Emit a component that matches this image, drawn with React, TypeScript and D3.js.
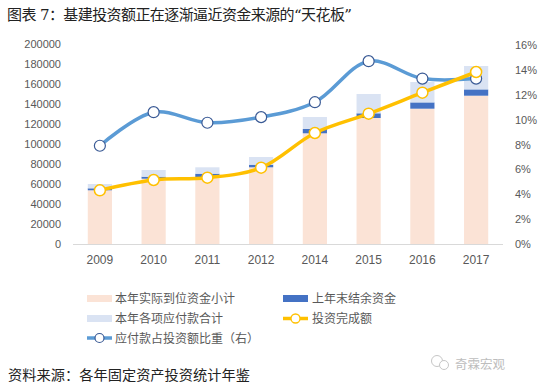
import React from "react";
import * as d3 from "d3";

const years = ["2009", "2010", "2011", "2012", "2014", "2015", "2016", "2017"];
const actualFunds = [53700, 65300, 67000, 76700, 110700, 126000, 135300, 148300];
const carryOver = [2000, 2000, 3300, 2600, 4300, 4700, 6300, 6300];
const payables = [4300, 6700, 6400, 7700, 12000, 19300, 20400, 23400];
const investment = [53700, 64000, 66300, 76300, 111000, 130300, 151300, 172000];
const payableRatio = [7.9, 10.6, 9.75, 10.2, 11.4, 14.7, 13.3, 13.3];
const leftTicks = [0, 20000, 40000, 60000, 80000, 100000, 120000, 140000, 160000, 180000, 200000];
const rightTicks = [0, 2, 4, 6, 8, 10, 12, 14, 16];

const FONT = "'Liberation Sans', 'Noto Sans CJK SC', sans-serif";
const CJK = "'Noto Sans CJK SC', sans-serif";
const SERIF = "'DejaVu Serif', 'Noto Sans CJK SC', serif";
const GRAY = "#595959";

export default function App() {
  const W = 550, H = 388;
  const x = d3.scaleBand<string>().domain(years).range([73, 503]).paddingInner(0.55).paddingOuter(0.275);
  const y = d3.scaleLinear().domain([0, 200000]).range([244, 44]);
  const yr = d3.scaleLinear().domain([0, 16]).range([244, 45]);
  const cx = (i: number) => (x(years[i]) as number) + x.bandwidth() / 2;
  const lineBlue = d3.line<number>().x((_, i) => cx(i)).y((d) => yr(d)).curve(d3.curveCatmullRom.alpha(0.5));
  const lineYellow = d3.line<number>().x((_, i) => cx(i)).y((d) => y(d)).curve(d3.curveCatmullRom.alpha(0.5));
  const bw = x.bandwidth();

  return (
    <svg width={W} height={H} style={{ position: "absolute", left: 0, top: 0, background: "#fff" }}>
      <rect width={W} height={H} fill="#fff" />
      <text x={7} y={20} fontFamily={SERIF} fontSize={15} fill="#222" textLength={345} lengthAdjust="spacing">图表 7：基建投资额正在逐渐逼近资金来源的“天花板”</text>

      {leftTicks.map((t) => (
        <text key={"l" + t} x={61} y={y(t) + 4} textAnchor="end" fontFamily={FONT} fontSize={11} fill={GRAY}>{t}</text>
      ))}
      {rightTicks.map((t) => (
        <text key={"r" + t} x={515} y={yr(t) + 4} fontFamily={FONT} fontSize={11} fill={GRAY}>{t + "%"}</text>
      ))}

      {years.map((yy, i) => {
        const x0 = x(yy) as number;
        const a = actualFunds[i], c = carryOver[i], p = payables[i];
        return (
          <g key={yy}>
            <rect x={x0} y={y(a)} width={bw} height={y(0) - y(a)} fill="#FBE3D6" />
            <rect x={x0} y={y(a + c)} width={bw} height={y(a) - y(a + c)} fill="#4472C4" />
            <rect x={x0} y={y(a + c + p)} width={bw} height={y(a + c) - y(a + c + p)} fill="#DAE3F3" />
            <text x={cx(i)} y={264} textAnchor="middle" fontFamily={FONT} fontSize={12} fill={GRAY}>{yy}</text>
          </g>
        );
      })}
      <line x1={73} x2={503} y1={244.5} y2={244.5} stroke="#D9D9D9" strokeWidth={1} />

      <path d={lineBlue(payableRatio) || ""} fill="none" stroke="#5B9BD5" strokeWidth={3.5} strokeLinecap="round" />
      <path d={lineYellow(investment) || ""} fill="none" stroke="#FFC000" strokeWidth={3.5} strokeLinecap="round" />
      {payableRatio.map((v, i) => (
        <circle key={"b" + i} cx={cx(i)} cy={yr(v)} r={5.5} fill="#fff" stroke="#3A5A95" strokeWidth={1.2} />
      ))}
      {investment.map((v, i) => (
        <circle key={"y" + i} cx={cx(i)} cy={y(v)} r={5.5} fill="#fff" stroke="#FFC000" strokeWidth={1.5} />
      ))}

      {/* legend */}
      <g fontFamily={CJK} fontSize={12} fill={GRAY}>
        <rect x={87} y={295} width={25} height={7} fill="#FBE3D6" />
        <text x={115} y={303}>本年实际到位资金小计</text>
        <rect x={283} y={295} width={25} height={7} fill="#4472C4" />
        <text x={312} y={303}>上年末结余资金</text>
        <rect x={87} y={315} width={25} height={7} fill="#DAE3F3" />
        <text x={115} y={323}>本年各项应付款合计</text>
        <line x1={283} x2={308} y1={318.5} y2={318.5} stroke="#FFC000" strokeWidth={3.5} />
        <circle cx={295.5} cy={318.5} r={4.5} fill="#fff" stroke="#FFC000" strokeWidth={1.3} />
        <text x={312} y={323}>投资完成额</text>
        <line x1={87} x2={112} y1={338} y2={338} stroke="#5B9BD5" strokeWidth={3.5} />
        <circle cx={99.5} cy={338} r={4.5} fill="#fff" stroke="#3A5A95" strokeWidth={1.2} />
        <text x={115} y={342.5}>应付款占投资额比重（右）</text>
      </g>

      <text x={8} y={380} fontFamily={SERIF} fontSize={14.2} fill="#222" textLength={242} lengthAdjust="spacing">资料来源：各年固定资产投资统计年鉴</text>
      <g opacity={0.55}>
        <circle cx={437} cy={361} r={5.5} fill="none" stroke="#999" strokeWidth={1} />
        <circle cx={444} cy={365} r={4.5} fill="#fff" stroke="#999" strokeWidth={1} />
        <text x={455} y={369} fontFamily={CJK} fontSize={12.5} fill="#888">奇霖宏观</text>
      </g>
    </svg>
  );
}
